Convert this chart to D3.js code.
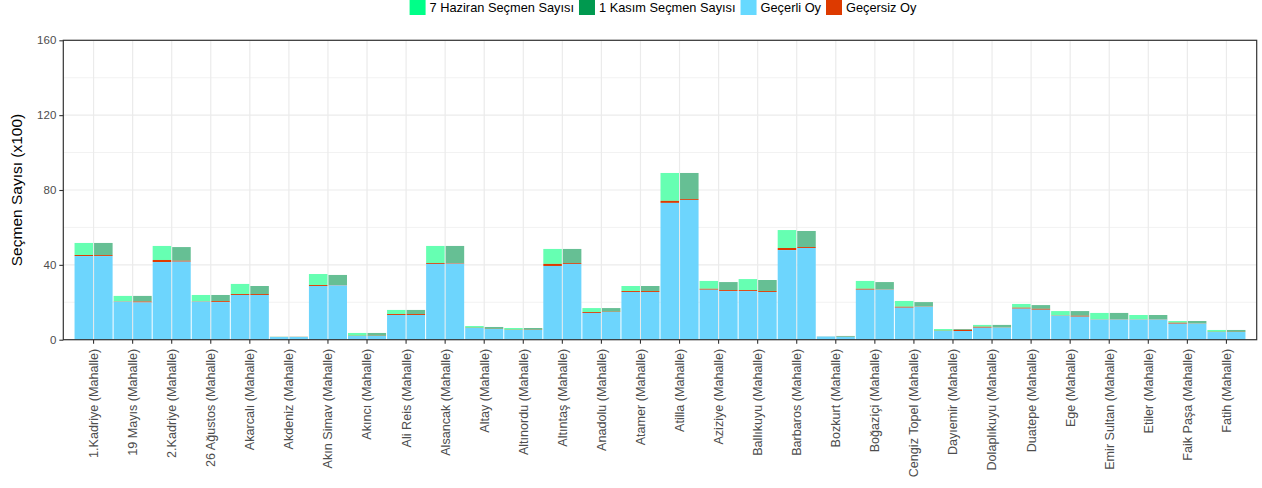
<!DOCTYPE html>
<html><head><meta charset="utf-8">
<script src="https://cdn.jsdelivr.net/npm/d3@7"></script>
<style>
html,body{margin:0;padding:0;background:#fff;}
svg{display:block;font-family:"Liberation Sans",Arial,Helvetica,sans-serif;}
</style></head>
<body><svg id="chart" width="1262" height="488"></svg>
<script>
const categories = ["1.Kadriye (Mahalle)","19 Mayıs (Mahalle)","2.Kadriye (Mahalle)","26 Ağustos (Mahalle)","Akarcalı (Mahalle)","Akdeniz (Mahalle)","Akın Simav (Mahalle)","Akıncı (Mahalle)","Ali Reis (Mahalle)","Alsancak (Mahalle)","Altay (Mahalle)","Altınordu (Mahalle)","Altıntaş (Mahalle)","Anadolu (Mahalle)","Atamer (Mahalle)","Atilla (Mahalle)","Aziziye (Mahalle)","Ballıkuyu (Mahalle)","Barbaros (Mahalle)","Bozkurt (Mahalle)","Boğaziçi (Mahalle)","Cengiz Topel (Mahalle)","Dayıemir (Mahalle)","Dolaplıkuyu (Mahalle)","Duatepe (Mahalle)","Ege (Mahalle)","Emir Sultan (Mahalle)","Etiler (Mahalle)","Faik Paşa (Mahalle)","Fatih (Mahalle)"];
// values in hundreds of voters
const haziranSecmen = [51.7,23.4,50.1,23.9,29.8,1.6,35.1,3.6,15.9,50.1,7.3,6.25,48.5,16.9,28.7,89.1,31.4,32.4,58.6,1.8,31.4,20.7,5.7,7.9,19.1,15.3,14.3,13.2,10.0,5.2];
const haziranGecerli = [44.7,20.3,41.5,20.3,23.9,1.45,28.7,2.0,13.2,40.5,6.25,5.2,39.4,14.3,25.5,73.1,26.7,26.0,47.9,1.7,26.7,17.1,4.65,6.4,16.6,12.8,10.7,10.7,8.55,4.1];
const haziranGecersiz = [0.55,0.15,1.1,0.15,0.5,0.05,0.5,0.1,0.5,0.5,0.1,0.1,1.1,0.5,0.5,1.1,0.5,0.5,1.1,0.05,0.5,0.5,0.1,0.5,0.5,0.15,0.1,0.1,0.5,0.1];
const kasimSecmen = [51.7,23.4,49.5,23.9,28.7,1.6,34.6,3.6,15.9,50.1,6.8,6.25,48.5,16.9,28.7,89.1,30.8,31.9,58.1,2.0,30.8,20.1,5.7,7.9,18.5,15.3,14.3,13.2,10.0,5.2];
const kasimGecerli = [44.7,19.9,41.7,20.1,23.9,1.45,29.0,2.0,13.2,40.6,5.7,5.2,40.5,14.8,25.5,74.7,26.0,25.5,49.0,1.5,26.7,17.6,4.65,6.4,16.0,12.3,10.7,10.7,8.55,4.1];
const kasimGecersiz = [0.5,0.5,0.5,0.5,0.5,0.05,0.2,0.1,0.5,0.3,0.1,0.1,0.5,0.15,0.5,0.5,0.5,0.5,0.5,0.05,0.15,0.15,0.6,0.1,0.5,0.5,0.1,0.1,0.1,0.1];
const yTicks = [0,40,80,120,160];
const yMinor = [20,60,100,140];
const legendLabels = ["7 Haziran Seçmen Sayısı","1 Kasım Seçmen Sayısı","Geçerli Oy","Geçersiz Oy"];
const legendColors = ["#00ff88","#00994f","#66d9ff","#dd3a00"];
const yTitle = "Seçmen Sayısı (x100)";

const svg = d3.select("#chart");
const L = 63.3, R = 1256.7, T = 40.3, B = 339.7;
const x = d3.scaleBand().domain(categories).range([L,R]).paddingInner(0).paddingOuter(0.275);
const sub = d3.scaleBand().domain(["h","k"]).range([0,x.bandwidth()]);
const y = d3.scaleLinear().domain([0,160]).range([B,T]);

// grid
const g = svg.append("g");
g.selectAll(".minor").data(yMinor).join("line")
  .attr("x1",L).attr("x2",R).attr("y1",d=>y(d)).attr("y2",d=>y(d))
  .attr("stroke","#f2f2f2").attr("stroke-width",1);
g.selectAll(".major").data(yTicks).join("line")
  .attr("x1",L).attr("x2",R).attr("y1",d=>y(d)).attr("y2",d=>y(d))
  .attr("stroke","#ebebeb").attr("stroke-width",1.2);
g.selectAll(".vmaj").data(categories).join("line")
  .attr("x1",d=>x(d)+x.bandwidth()/2).attr("x2",d=>x(d)+x.bandwidth()/2)
  .attr("y1",T).attr("y2",B).attr("stroke","#ebebeb").attr("stroke-width",1.2);

// bars
const series = [
  {key:"h", tot:haziranSecmen, val:haziranGecerli, inv:haziranGecersiz, green:"#66ffb2"},
  {key:"k", tot:kasimSecmen, val:kasimGecerli, inv:kasimGecersiz, green:"#66bf94"}
];
const bars = svg.append("g");
series.forEach(s=>{
  categories.forEach((c,i)=>{
    const x0 = x(c)+sub(s.key)+0.5, w = sub.bandwidth()-1;
    const v = s.val[i], iv = s.inv[i], t = s.tot[i];
    bars.append("rect").attr("x",x0).attr("width",w)
      .attr("y",y(t)).attr("height",y(v+iv)-y(t)).attr("fill",s.green);
    bars.append("rect").attr("x",x0).attr("width",w)
      .attr("y",y(v+iv)).attr("height",y(v)-y(v+iv)).attr("fill","#dd3a00");
    bars.append("rect").attr("x",x0).attr("width",w)
      .attr("y",y(v)).attr("height",y(0)-y(v)).attr("fill","#6dd5fd");
  });
});

// panel border
svg.append("rect").attr("x",L).attr("y",T).attr("width",R-L).attr("height",B-T)
  .attr("fill","none").attr("stroke","#333").attr("stroke-width",1.2);

// y axis
const ya = svg.append("g").attr("transform",`translate(${L},0)`)
  .call(d3.axisLeft(y).tickValues(yTicks).tickSize(4).tickPadding(3));
ya.select(".domain").remove();
ya.selectAll(".tick line").attr("stroke","#333").attr("stroke-width",1.1);
ya.selectAll(".tick text").attr("fill","#4d4d4d").style("font-size","11.5px").style("font-family","Liberation Sans, Arial, sans-serif");

// x axis
const xa = svg.append("g").attr("transform",`translate(0,${B})`)
  .call(d3.axisBottom(x).tickSize(4).tickPadding(0));
xa.select(".domain").remove();
xa.selectAll(".tick line").attr("stroke","#333").attr("stroke-width",1.1);
xa.selectAll(".tick text")
  .attr("fill","#4d4d4d").style("font-size","12.6px").style("font-family","Liberation Sans, Arial, sans-serif")
  .attr("text-anchor","end").attr("transform","rotate(-90)")
  .attr("x",-9).attr("y",0).attr("dy","0.35em");

// y title
svg.append("text").attr("transform",`translate(22,${(T+B)/2}) rotate(-90)`)
  .attr("text-anchor","middle").style("font-size","15.5px").attr("fill","#000").text(yTitle);

// legend
const lg = svg.append("g");
let cx = 0;
legendLabels.forEach((lab,i)=>{
  const it = lg.append("g").attr("transform",`translate(${cx},0)`);
  it.append("rect").attr("x",0).attr("y",0).attr("width",16).attr("height",15).attr("fill",legendColors[i]);
  const t = it.append("text").attr("x",20).attr("y",12).style("font-size","12.8px").attr("fill","#000").text(lab);
  cx += 20 + t.node().getComputedTextLength() + 5;
});
const lw = cx - 5;
lg.attr("transform",`translate(${(L+R)/2 + 3 - lw/2},0)`);
</script></body></html>
